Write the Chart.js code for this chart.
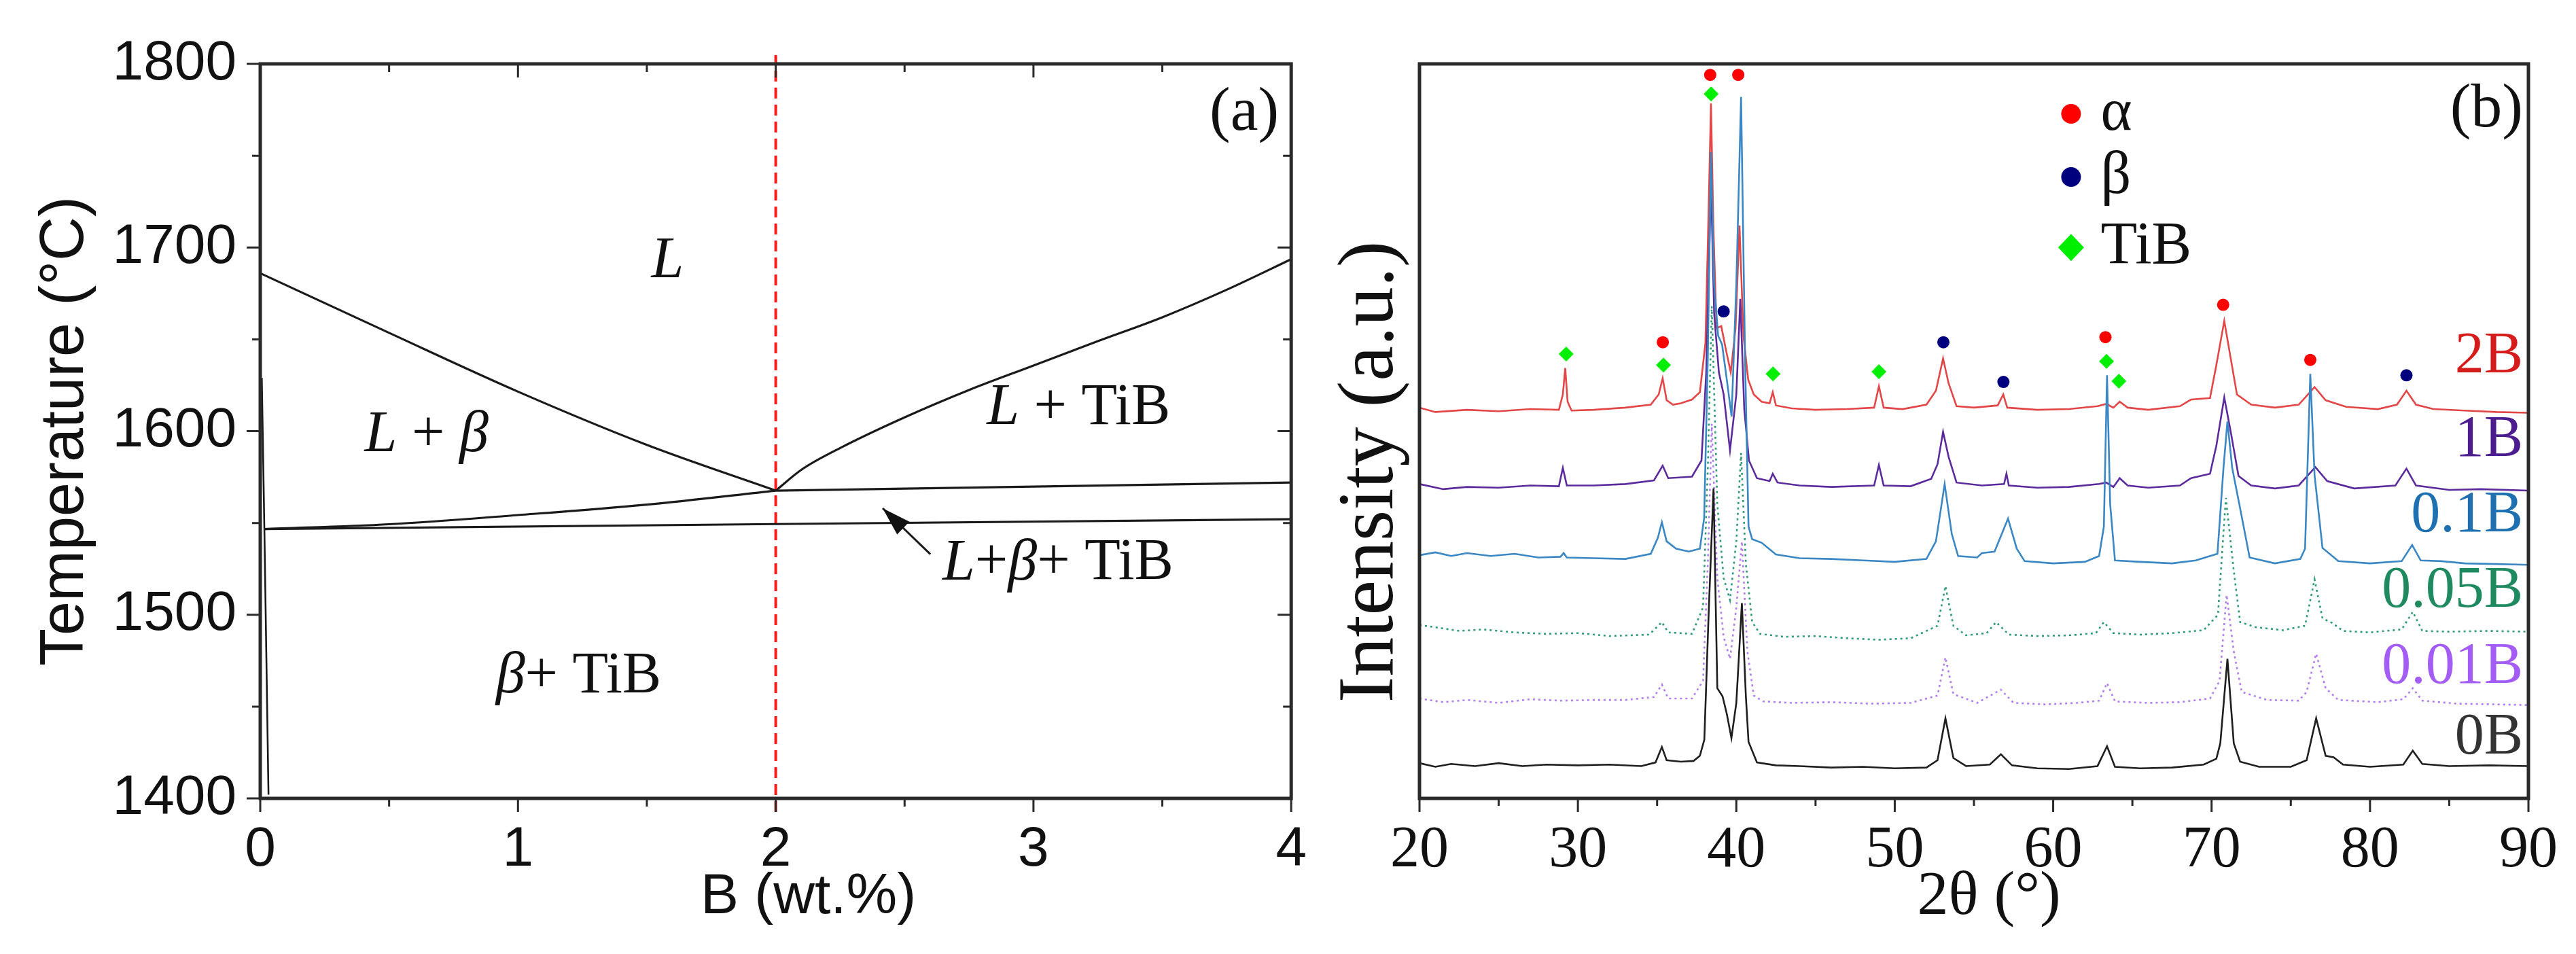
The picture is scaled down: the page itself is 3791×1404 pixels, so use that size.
<!DOCTYPE html>
<html>
<head>
<meta charset="utf-8">
<script src="https://cdn.jsdelivr.net/npm/chart.js@4.4.1/dist/chart.umd.min.js"></script>
<style>
  html, body { margin: 0; padding: 0; background: #fff; }
  body { width: 3791px; height: 1404px; position: relative; overflow: hidden; }
  .panel { position: absolute; top: 0; height: 1404px; }
  #wrapA { left: 0; width: 1950px; }
  #wrapB { left: 1940px; width: 1851px; }
</style>
</head>
<body>
<div class="panel" id="wrapA"><canvas id="phaseChart"></canvas></div>
<div class="panel" id="wrapB"><canvas id="xrdChart"></canvas></div>
<script>
// ---------- (a) Ti-B phase diagram : B (wt.%) vs temperature (°C) ----------
const wtTicks = [0, 1, 2, 3, 4];
const tempTicks = [1400, 1500, 1600, 1700, 1800];

const liqBetaB = [0, 0.5, 1.0, 1.5, 2.0];
const liqBetaT = [1686, 1653.5, 1621.5, 1592.5, 1567.6];
const liqTiBB = [2.0, 2.1, 2.25, 2.5, 2.75, 3.0, 3.25, 3.5, 3.75, 4.0];
const liqTiBT = [1567.6, 1579, 1590.8, 1607.5, 1622.4, 1635.7, 1649, 1662, 1677, 1693.6];
const solBetaB = [0.016, 0.5, 1.0, 1.5, 2.0];
const solBetaT = [1546.7, 1549.3, 1554.3, 1560, 1567.6];
const threePhaseB = [2.0, 4.0];
const threePhaseT = [1567.6, 1572];
const eutecticB = [0.016, 2.0, 4.0];
const eutecticT = [1546.7, 1549.4, 1552];
const solvusB = [0.006, 0.016, 0.032];
const solvusT = [1629, 1546.7, 1402];
const arrowB = [2.6, 2.415];      // tail -> head
const arrowT = [1533, 1558];
const compB = [2, 2];             // red dashed composition line
const compT = [1392.6, 1804.8];

// phase field labels, anchored in data units (segments: text, italic?)
const phaseLabels = [
  { b: 1.58, t: 1692, parts: [['L', true]] },
  { b: 0.645, t: 1597.6, parts: [['L', true], [' + ', false], ['β', true]] },
  { b: 3.175, t: 1612.4, parts: [['L', true], [' + TiB', false]] },
  { b: 3.095, t: 1527.7, parts: [['L', true], ['+', false], ['β', true], ['+ TiB', false]] },
  { b: 1.235, t: 1466, parts: [['β', true], ['+ TiB', false]] }
];

// ---------- (b) XRD patterns : 2θ (°) vs intensity (a.u., stacked) ----------
const twoThetaTicks = [20, 30, 40, 50, 60, 70, 80, 90];
const sampleNames = ['2B', '1B', '0.1B', '0.05B', '0.01B', '0B'];
const sampleLabelLevel = [60.1, 48.7, 38.4, 28.2, 17.8, 8.2];

const xrd2B = [[20,53.2],[21,52.6],[23,52.9],[25,52.7],[27,53.0],[28.8,52.9],[29.05,55],[29.2,58.6],[29.35,54],[29.6,52.8],
  [31,52.9],[33,53.2],[34.6,53.6],[35.1,55],[35.35,57.2],[35.6,54.2],[36,53.6],[36.5,53.8],[37.2,54.3],[37.7,55.3],
  [38.05,62],[38.25,80],[38.4,94.6],[38.55,78],[38.75,64],[39.05,64.3],[39.35,61],[39.65,58],[39.95,64],[40.2,78],
  [40.45,63],[40.75,57],[41.1,55],[41.6,54],[42.1,53.8],[42.3,55.3],[42.5,53.5],[43.5,53.1],[45,52.9],[47,53.0],
  [48.7,53.2],[49.0,56.1],[49.3,53.2],[50.5,53.0],[52.0,53.6],[52.6,55.5],[53.05,59.9],[53.4,56.5],[53.9,53.4],[55,53.2],
  [56.5,53.5],[56.85,55.0],[57.1,53.2],[59,52.9],[61,53.0],[62.8,53.4],[63.35,53.7],[63.8,53.2],[64.2,54.0],[64.7,53.2],
  [66,52.9],[68,53.4],[68.7,54.3],[69.9,54.5],[70.3,59],[70.8,65],[71.2,60],[71.6,55],[72.5,53.6],[74,53.2],
  [75.5,53.6],[76.5,56.0],[77.2,54.2],[78.5,53.3],[80.5,53.0],[81.7,53.6],[82.3,55.5],[82.9,53.6],[84,53.0],[86,52.8],
  [88,52.6],[90,52.5]];
const xrd1B = [[20,42.8],[21.5,42.1],[23,42.4],[25,42.3],[27,42.6],[28.8,42.5],[29.05,45.0],[29.3,42.6],[31,42.6],[33,42.8],
  [34.8,43.3],[35.35,45.3],[35.7,43.6],[37.2,43.8],[37.8,46],[38.1,58],[38.4,84],[38.6,66],[38.9,58],[39.2,55],
  [39.6,47.4],[40.0,55],[40.25,68],[40.5,53],[40.8,46],[41.3,43.6],[42.1,43.2],[42.3,44.2],[42.6,43],[44,42.6],
  [46,42.4],[48.7,42.6],[49.0,45.4],[49.3,42.6],[51,42.5],[52.3,43.5],[52.7,45.5],[53.05,49.9],[53.4,46.5],[53.9,43],
  [55.5,42.6],[56.9,42.8],[57.05,44.2],[57.2,42.6],[59,42.3],[61,42.4],[62.9,42.8],[63.35,43.0],[63.8,42.4],[64.2,43.6],
  [64.7,42.6],[66,42.3],[68,42.6],[68.7,43.6],[69.9,44.2],[70.3,48],[70.8,54.6],[71.2,50],[71.7,43.9],[72.5,42.6],
  [74,42.2],[75.5,42.6],[76.55,45.1],[77.3,43.2],[79,42.2],[81.6,42.6],[82.3,44.9],[82.9,42.6],[85,42.0],[87,42.1],[90,41.9]];
const xrd01B = [[20,33.1],[21,33.5],[22,33.0],[23,33.4],[24.5,33.0],[26,33.3],[27.5,32.8],[28.9,32.9],[29.1,33.4],[29.3,32.8],
  [31,32.7],[33,32.6],[34.6,33.3],[35.05,35.5],[35.3,37.6],[35.6,35],[36.2,34],[37.0,33.6],[37.7,34.0],[37.97,38.2],
  [38.2,60],[38.4,88],[38.6,70],[38.85,63],[39.1,61.8],[39.4,57],[39.7,52],[40.0,70],[40.3,95.5],[40.55,60],
  [40.77,37.0],[41.0,35.3],[41.6,34.8],[42.5,33.2],[44,32.7],[46,32.6],[48,32.4],[50,32.2],[52,32.6],[52.6,35],
  [53.15,42.8],[53.6,36],[54.0,33.0],[55.2,32.8],[55.5,33.4],[56.3,33.6],[57.15,38.1],[57.7,34],[58.2,32.3],[60,32.0],
  [62,32.2],[62.9,33.0],[63.2,37],[63.4,57.6],[63.6,40],[63.9,32.4],[65.5,32.2],[67.5,32.0],[69,32.4],[70.37,33.3],
  [70.75,45],[71.0,51.3],[71.3,45],[71.9,38.4],[72.4,32.8],[74,32.0],[75.6,32.6],[75.9,34],[76.23,57.8],[76.5,44],
  [77.0,34.1],[78,32.3],[80,32.0],[82,32.3],[82.66,34.5],[83.2,32.4],[84.5,32.3],[86,32.0],[88,31.9],[90,31.8]];
const xrd005B = [[20,23.6],[21,23.3],[22.5,22.8],[24,23.0],[26,22.6],[28,22.4],[30,22.5],[32,22.1],[34.5,22.3],[35.3,24.0],
  [35.7,22.6],[37.2,22.4],[37.9,26],[38.2,45],[38.45,67],[38.8,40],[39.2,30],[39.6,27],[40.0,35],[40.3,47],
  [40.6,32],[41.0,24],[41.5,22.4],[43,22.0],[45,22.1],[47,21.8],[49,21.6],[51,21.8],[52.7,23.5],[53.2,28.9],
  [53.7,23.5],[54.5,22.2],[55.8,22.5],[56.4,24.0],[57.2,22.3],[59,22.1],[61,22.2],[62.7,22.5],[63.2,24.0],[63.8,22.5],
  [65.5,22.3],[67.5,22.5],[69.5,22.9],[70.4,25],[70.9,40.9],[71.4,31],[71.8,24],[72.8,23.3],[74.5,22.9],[75.9,23.5],
  [76.5,29.8],[77.0,24.5],[77.6,23.9],[78.3,22.8],[80,22.6],[82.0,23.0],[82.7,25.4],[83.3,22.8],[85,22.7],[87.5,22.8],[90,22.7]];
const xrd001B = [[20,13.6],[21.5,13.1],[23,13.4],[25,13.0],[27,13.5],[29,13.3],[31,13.4],[33,13.4],[34.8,13.8],[35.3,15.5],
  [35.7,13.6],[37.2,13.6],[37.9,16],[38.2,32],[38.45,51],[38.8,30],[39.2,22],[39.6,19],[40.0,26],[40.35,35],
  [40.7,20],[41.1,14],[41.7,13.2],[43.5,13.0],[46,13.1],[48.5,12.9],[51,13.0],[52.7,14.0],[53.2,19.2],[53.7,14.2],
  [55.2,13.0],[56.7,14.8],[57.5,13.0],[59.5,12.8],[61.5,13.0],[62.9,13.3],[63.4,15.7],[63.9,13.2],[66,13.0],[68,13.1],
  [69.9,13.6],[70.5,16],[70.95,27.7],[71.4,20],[71.9,14.5],[73.5,13.4],[75.5,13.3],[76.0,14.5],[76.6,19.7],[77.2,15],
  [78,13.4],[80.5,13.1],[82.1,13.5],[82.7,15.0],[83.3,13.3],[85.5,12.9],[88,12.8],[90,12.7]];
const xrd0B = [[20,4.8],[21,4.3],[22,4.7],[23.5,4.4],[25,4.8],[26.5,4.4],[28,4.6],[30,4.5],[32,4.6],[34,4.4],
  [34.9,4.9],[35.3,7.0],[35.6,5.2],[36.5,5.0],[37.3,5.1],[37.7,5.8],[37.98,8.0],[38.25,25],[38.56,42.2],[38.8,15],
  [39.13,13.9],[39.4,11.5],[39.69,8.2],[40.0,13],[40.35,26.6],[40.6,14],[40.77,7.7],[41.3,4.9],[42.5,4.5],[44,4.4],
  [46,4.2],[48,4.3],[50,4.1],[52,4.2],[52.7,5.2],[53.2,10.9],[53.7,5.5],[54.5,4.4],[56.0,4.6],[56.7,6.0],
  [57.4,4.5],[59,4.1],[61,4.0],[62.8,4.4],[63.4,7.1],[63.9,4.3],[65.5,4.1],[67.5,4.2],[69.5,4.6],[70.3,5.4],
  [70.55,7.5],[71.0,19.0],[71.4,7.5],[71.8,5.0],[73,4.3],[75,4.3],[76.0,5.2],[76.6,10.9],[77.2,5.8],[77.7,5.6],
  [78.3,4.6],[80,4.3],[82.1,4.6],[82.7,6.5],[83.3,4.7],[85,4.4],[87.5,4.5],[90,4.4]];
const sampleSeries = [xrd2B, xrd1B, xrd01B, xrd005B, xrd001B, xrd0B];

// phase markers above the peaks
const alphaPos = [35.36, 38.35, 40.12, 63.3, 70.73, 76.23];
const alphaInt = [62.1, 98.5, 98.5, 62.8, 67.2, 59.7];
const betaPos = [39.2, 53.07, 56.86, 82.3];
const betaInt = [66.3, 62.1, 56.7, 57.6];
const tibPos = [29.26, 35.4, 38.41, 42.32, 49.0, 63.37, 64.15];
const tibInt = [60.5, 59.0, 95.9, 57.8, 58.1, 59.5, 56.8];
const phaseNames = ['α', 'β', 'TiB'];

// ---------- styles ----------
const sampleLineColors = ['#e34646', '#5b2a9c', '#3a87c4', '#2e9b72', '#b07ef2', '#1f1f1f'];
const sampleTextColors = ['#d61b1b', '#4d1d8f', '#1f70b0', '#1f8a5f', '#a35cf6', '#333333'];
const sampleDotted = [false, false, false, true, true, false];
const phaseColors = ['#ff0000', '#00007f', '#00ee00'];

const SANS = '"Liberation Sans", Arial, sans-serif';
const SERIF = '"Liberation Serif", "Times New Roman", serif';

Chart.defaults.color = '#111';
Chart.defaults.animation = false;

function pts(xs, ys) { return xs.map((v, i) => ({ x: v, y: ys[i] })); }
function pairs(arr) { return arr.map(p => ({ x: p[0], y: p[1] })); }

// frame around the plot area plus major/minor tick marks
const frameTicks = {
  id: 'frameTicks',
  afterDraw(chart, args, o) {
    const { ctx, chartArea: a, scales: { x, y } } = chart;
    ctx.save();
    ctx.strokeStyle = o.color;
    ctx.lineWidth = o.tickWidth;
    ctx.beginPath();
    const nX = Math.round((x.max - x.min) / o.xMinor);
    for (let i = 0; i <= nX; i++) {
      const v = x.min + i * o.xMinor;
      const isMajor = Math.abs(v / o.xMajor - Math.round(v / o.xMajor)) < 1e-6;
      const px = x.getPixelForValue(v), len = isMajor ? o.major : o.minor;
      if (o.bottom) { ctx.moveTo(px, a.bottom); ctx.lineTo(px, a.bottom + o.bottom * len); }
      if (o.top) { ctx.moveTo(px, a.top); ctx.lineTo(px, a.top + o.top * len); }
    }
    if (o.left || o.right) {
      const nY = Math.round((y.max - y.min) / o.yMinor);
      for (let i = 0; i <= nY; i++) {
        const v = y.min + i * o.yMinor;
        const isMajor = Math.abs(v / o.yMajor - Math.round(v / o.yMajor)) < 1e-6;
        const py = y.getPixelForValue(v), len = isMajor ? o.major : o.minor;
        if (o.left) { ctx.moveTo(a.left, py); ctx.lineTo(a.left + o.left * len, py); }
        if (o.right) { ctx.moveTo(a.right, py); ctx.lineTo(a.right + o.right * len, py); }
      }
    }
    ctx.stroke();
    ctx.lineWidth = o.frameWidth;
    ctx.strokeRect(a.left, a.top, a.right - a.left, a.bottom - a.top);
    ctx.restore();
  }
};

// axis titles placed relative to the plot area (offsets)
const axisTitles = {
  id: 'axisTitles',
  afterDraw(chart, args, o) {
    const { ctx, chartArea: a } = chart;
    const cx = (a.left + a.right) / 2, cy = (a.top + a.bottom) / 2;
    ctx.save();
    ctx.fillStyle = '#111';
    ctx.textAlign = 'center';
    ctx.textBaseline = 'middle';
    ctx.font = o.xFont;
    ctx.fillText(o.xText, cx + o.xShift, a.bottom + o.xDrop);
    ctx.translate(a.left - o.yGap, cy + o.yShift);
    ctx.rotate(-Math.PI / 2);
    ctx.font = o.yFont;
    ctx.fillText(o.yText, 0, 0);
    ctx.restore();
  }
};

// text made of regular / italic pieces, centred on (cx, cy)
function drawRich(ctx, parts, cx, cy, size) {
  const fonts = parts.map(p => (p[1] ? 'italic ' : '') + size + 'px ' + SERIF);
  const widths = parts.map((p, i) => { ctx.font = fonts[i]; return ctx.measureText(p[0]).width; });
  let xx = cx - widths.reduce((s, w) => s + w, 0) / 2;
  ctx.textAlign = 'left';
  parts.forEach((p, i) => { ctx.font = fonts[i]; ctx.fillText(p[0], xx, cy); xx += widths[i]; });
}

const phaseText = {
  id: 'phaseText',
  afterDatasetsDraw(chart) {
    const { ctx, chartArea: a, scales: { x, y } } = chart;
    ctx.save();
    ctx.fillStyle = '#111';
    ctx.textBaseline = 'middle';
    phaseLabels.forEach(l => drawRich(ctx, l.parts, x.getPixelForValue(l.b), y.getPixelForValue(l.t), 86));
    ctx.font = '92px ' + SERIF;
    ctx.textAlign = 'right';
    ctx.fillText('(a)', a.right - 18, y.getPixelForValue(1773));
    // arrow head on the arrow dataset
    const meta = chart.getDatasetMeta(chart.data.datasets.findIndex(d => d.label === 'arrow'));
    const p0 = meta.data[0], p1 = meta.data[1];
    const ang = Math.atan2(p1.y - p0.y, p1.x - p0.x);
    const L = 42, W = 13;
    ctx.beginPath();
    ctx.moveTo(p1.x, p1.y);
    ctx.lineTo(p1.x - L * Math.cos(ang) + W * Math.sin(ang), p1.y - L * Math.sin(ang) - W * Math.cos(ang));
    ctx.lineTo(p1.x - L * Math.cos(ang) - W * Math.sin(ang), p1.y - L * Math.sin(ang) + W * Math.cos(ang));
    ctx.closePath();
    ctx.fill();
    ctx.restore();
  }
};

const xrdText = {
  id: 'xrdText',
  afterDatasetsDraw(chart) {
    const { ctx, chartArea: a, scales: { x, y } } = chart;
    ctx.save();
    ctx.textBaseline = 'middle';
    ctx.textAlign = 'right';
    ctx.font = '86px ' + SERIF;
    sampleNames.forEach((n, i) => {
      ctx.fillStyle = sampleTextColors[i];
      ctx.fillText(n, a.right - 8, y.getPixelForValue(sampleLabelLevel[i]));
    });
    ctx.fillStyle = '#111';
    ctx.font = '92px ' + SERIF;
    ctx.fillText('(b)', a.right - 8, y.getPixelForValue(93.7));
    // legend for the phase markers
    const lx = x.getPixelForValue(61.13), tx = x.getPixelForValue(63.0);
    const ly = [93.2, 84.6, 75.0].map(v => y.getPixelForValue(v));
    ctx.fillStyle = phaseColors[0];
    ctx.beginPath(); ctx.arc(lx, ly[0], 14.5, 0, Math.PI * 2); ctx.fill();
    ctx.fillStyle = phaseColors[1];
    ctx.beginPath(); ctx.arc(lx, ly[1], 14.5, 0, Math.PI * 2); ctx.fill();
    ctx.fillStyle = phaseColors[2];
    ctx.beginPath();
    ctx.moveTo(lx, ly[2] - 20); ctx.lineTo(lx + 19, ly[2]); ctx.lineTo(lx, ly[2] + 20); ctx.lineTo(lx - 19, ly[2]);
    ctx.closePath(); ctx.fill();
    ctx.fillStyle = '#111';
    ctx.textAlign = 'left';
    ctx.font = '88px ' + SERIF;
    phaseNames.forEach((n, i) => ctx.fillText(n, tx, ly[i]));
    ctx.restore();
  }
};

// ---------- chart (a) ----------
const lineStyle = { showLine: true, borderColor: '#1a1a1a', borderWidth: 3.2, pointRadius: 0, fill: false };
const curveStyle = { ...lineStyle, cubicInterpolationMode: 'monotone' };
new Chart(document.getElementById('phaseChart'), {
  type: 'scatter',
  data: {
    datasets: [
      { label: 'arrow', data: pts(arrowB, arrowT), ...lineStyle, borderWidth: 3 },
      { label: 'B = 2 wt.%', data: pts(compB, compT), showLine: true, borderColor: '#ff1a1a', borderWidth: 4,
        borderDash: [16, 9], pointRadius: 0, clip: false },
      { label: 'L/L+β', data: pts(liqBetaB, liqBetaT), ...curveStyle },
      { label: 'L/L+TiB', data: pts(liqTiBB, liqTiBT), ...curveStyle },
      { label: 'L+β/L+β+TiB', data: pts(solBetaB, solBetaT), ...curveStyle },
      { label: 'L+TiB/L+β+TiB', data: pts(threePhaseB, threePhaseT), ...lineStyle },
      { label: 'eutectic', data: pts(eutecticB, eutecticT), ...lineStyle },
      { label: 'solvus', data: pts(solvusB, solvusT), ...lineStyle, borderWidth: 2.6 }
    ]
  },
  options: {
    responsive: true,
    maintainAspectRatio: false,
    events: [],
    layout: { padding: { top: 94, right: 29, bottom: 0, left: 0 } },
    scales: {
      x: {
        type: 'linear', min: 0, max: 4,
        afterBuildTicks: s => { s.ticks = wtTicks.map(v => ({ value: v })); },
        afterFit: s => { s.height = 229; },
        grid: { display: false, drawTicks: false },
        border: { display: false },
        ticks: { padding: 27, font: { family: SANS, size: 82 }, color: '#111', callback: v => String(v) }
      },
      y: {
        type: 'linear', min: 1400, max: 1800,
        afterBuildTicks: s => { s.ticks = tempTicks.map(v => ({ value: v })); },
        afterFit: s => { s.width = 383; },
        grid: { display: false, drawTicks: false },
        border: { display: false },
        ticks: { padding: 35, font: { family: SANS, size: 82 }, color: '#111', callback: v => String(v) }
      }
    },
    plugins: {
      legend: { display: false },
      tooltip: { enabled: false },
      frameTicks: { color: '#2a2a2a', tickWidth: 3, frameWidth: 5, major: 20, minor: 12,
        xMajor: 1, xMinor: 0.5, yMajor: 100, yMinor: 50, bottom: 1, top: 1, left: -1, right: -1 },
      axisTitles: { xText: 'B (wt.%)', xFont: '84px ' + SANS, xShift: 48, xDrop: 146,
        yText: 'Temperature (°C)', yFont: '90px ' + SANS, yGap: 286, yShift: 0 }
    }
  },
  plugins: [frameTicks, phaseText, axisTitles]
});

// ---------- chart (b) ----------
const markerSets = [
  { label: 'α', data: pts(alphaPos, alphaInt), pointStyle: 'circle', pointRadius: 9, backgroundColor: phaseColors[0] },
  { label: 'β', data: pts(betaPos, betaInt), pointStyle: 'circle', pointRadius: 9, backgroundColor: phaseColors[1] },
  { label: 'TiB', data: pts(tibPos, tibInt), pointStyle: 'rectRot', pointRadius: 11, backgroundColor: phaseColors[2] }
].map(d => ({ ...d, showLine: false, borderWidth: 0 }));

const patternSets = sampleNames.map((n, i) => ({
  label: n,
  data: pairs(sampleSeries[i]),
  showLine: true,
  borderColor: sampleLineColors[i],
  borderWidth: 2.6,
  borderDash: sampleDotted[i] ? [3, 5] : [],
  pointRadius: 0,
  tension: 0
})).reverse();

new Chart(document.getElementById('xrdChart'), {
  type: 'scatter',
  data: { datasets: [...markerSets, ...patternSets] },
  options: {
    responsive: true,
    maintainAspectRatio: false,
    events: [],
    layout: { padding: { top: 94, right: 70, bottom: 0, left: 0 } },
    scales: {
      x: {
        type: 'linear', min: 20, max: 90,
        afterBuildTicks: s => { s.ticks = twoThetaTicks.map(v => ({ value: v })); },
        afterFit: s => { s.height = 229; },
        grid: { display: false, drawTicks: false },
        border: { display: false },
        ticks: { padding: 26, font: { family: SERIF, size: 86 }, color: '#111', callback: v => String(v) }
      },
      y: {
        type: 'linear', min: 0, max: 100,
        afterFit: s => { s.width = 149; },
        grid: { display: false, drawTicks: false },
        border: { display: false },
        ticks: { display: false }
      }
    },
    plugins: {
      legend: { display: false },
      tooltip: { enabled: false },
      frameTicks: { color: '#2a2a2a', tickWidth: 3, frameWidth: 5, major: 20, minor: 11,
        xMajor: 10, xMinor: 5, yMajor: 100, yMinor: 100, bottom: 1, top: 0, left: 0, right: 0 },
      axisTitles: { xText: '2θ (°)', xFont: '92px ' + SERIF, xShift: 22, xDrop: 146,
        yText: 'Intensity (a.u.)', yFont: '116px ' + SERIF, yGap: 70, yShift: 60 }
    }
  },
  plugins: [frameTicks, xrdText, axisTitles]
});
</script>
</body>
</html>
